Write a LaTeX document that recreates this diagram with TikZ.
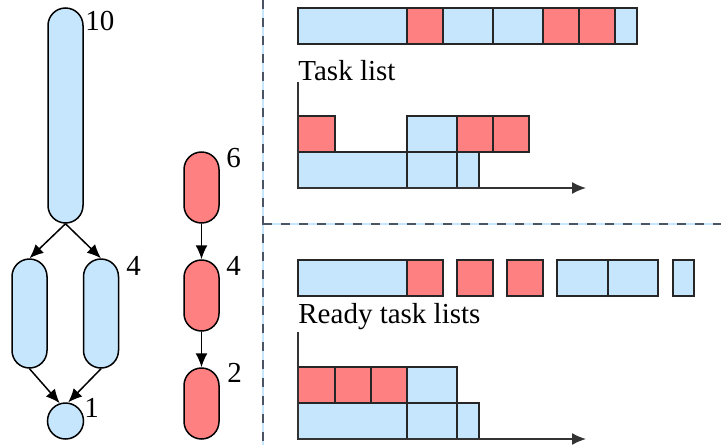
\documentclass[tikz,border=0pt]{standalone}
\usepackage{fontspec}
\setmainfont{Liberation Serif}
\usetikzlibrary{arrows.meta}
\definecolor{lblue}{RGB}{197,230,253}
\definecolor{lred}{RGB}{255,128,128}
\definecolor{dgray}{RGB}{74,84,98}
\begin{document}
\begin{tikzpicture}[x=0.5pt,y=-0.5pt,
  capsule/.style={draw=black,line width=0.75pt,rounded corners=8.75pt,minimum width=17.5pt,inner sep=0pt},
  bluecap/.style={capsule,fill=lblue},
  redcap/.style={capsule,fill=lred},
  num/.style={anchor=base west,inner sep=0pt,font=\fontsize{14.5}{16}\selectfont},
  lbl/.style={anchor=base west,inner sep=0pt,font=\fontsize{14.5}{16}\selectfont},
  arr/.style={line width=0.75pt,-{Latex[length=7pt,width=6pt]}},
  bcell/.style={draw=black!85,line width=0.75pt,fill=lblue},
  rcell/.style={draw=black!85,line width=0.75pt,fill=lred},
  axis/.style={draw=black!80,line width=0.75pt},
]
\useasboundingbox (0,0) rectangle (721,445);

% dashed separators
\draw[lblue,line width=1pt] (263,0) -- (263,445);
\draw[dgray,line width=1pt,dash pattern=on 4.5pt off 4.5pt] (263,0) -- (263,445);
\draw[lblue,line width=1pt] (263,224) -- (721,224);
\draw[dgray,line width=1pt,dash pattern=on 4.5pt off 4.5pt] (263,224) -- (721,224);

% left DAG
\node[bluecap,minimum height=107.5pt] (n10) at (65.5,115.5) {};
\node[bluecap,minimum height=54.5pt] (nL) at (29.5,313.5) {};
\node[bluecap,minimum height=54.5pt] (nR) at (101,313.5) {};
\node[draw=black,line width=0.75pt,fill=lblue,circle,minimum size=18pt,inner sep=0pt] (n1) at (65.5,421) {};
\draw[arr] (n10.south) -- (nL.north);
\draw[arr] (n10.south) -- (nR.north);
\draw[arr] (nL.south) -- (n1.108);
\draw[arr] (nR.south) -- (n1.82);
\node[num] (t10) at (85,30) {10};
\node[num] (t4a) at (126,275) {4};
\node[num] (t1) at (84,417) {1};

% middle chain
\node[redcap,minimum height=35.5pt] (m6) at (201.5,187.5) {};
\node[redcap,minimum height=35.5pt] (m4) at (201.5,295.5) {};
\node[redcap,minimum height=35.5pt] (m2) at (201.5,403.5) {};
\draw[arr] (m6.south) -- (m4.north);
\draw[arr] (m4.south) -- (m2.north);
\node[num] (t6) at (226,167) {6};
\node[num] (t4b) at (226,275) {4};
\node[num] (t2) at (227,382) {2};

% top: task list
\filldraw[bcell] (298,8) rectangle (407,44);
\filldraw[rcell] (407,8) rectangle (443,44);
\filldraw[bcell] (443,8) rectangle (493,44);
\filldraw[bcell] (493,8) rectangle (543,44);
\filldraw[rcell] (543,8) rectangle (579,44);
\filldraw[rcell] (579,8) rectangle (615,44);
\filldraw[bcell] (615,8) rectangle (637,44);
\node[lbl] (tl) at (298,80) {Task list};

\coordinate (a1top) at (298,82);
\coordinate (a1o) at (298,188);
\coordinate (a1end) at (586,188);
\filldraw[rcell] (298,116) rectangle (335,152);
\filldraw[bcell] (407,116) rectangle (457,152);
\filldraw[rcell] (457,116) rectangle (493,152);
\filldraw[rcell] (493,116) rectangle (529,152);
\filldraw[bcell] (298,152) rectangle (407,188);
\filldraw[bcell] (407,152) rectangle (457,188);
\filldraw[bcell] (457,152) rectangle (479,188);
\draw[axis] (a1top) -- (a1o);
\draw[axis,-{Latex[length=7pt,width=6pt]}] (a1o) -- (a1end);

% bottom: ready task lists
\filldraw[bcell] (298,260) rectangle (407,296);
\filldraw[rcell] (407,260) rectangle (443,296);
\filldraw[rcell] (457,260) rectangle (493,296);
\filldraw[rcell] (507,260) rectangle (543,296);
\filldraw[bcell] (557,260) rectangle (608,296);
\filldraw[bcell] (608,260) rectangle (658,296);
\filldraw[bcell] (673,260) rectangle (694,296);
\node[lbl] (rl) at (298,323) {Ready task lists};

\coordinate (a2top) at (298,332);
\coordinate (a2o) at (298,439);
\coordinate (a2end) at (586,439);
\filldraw[rcell] (298,367) rectangle (335,403);
\filldraw[rcell] (335,367) rectangle (371,403);
\filldraw[rcell] (371,367) rectangle (407,403);
\filldraw[bcell] (407,367) rectangle (457,403);
\filldraw[bcell] (298,403) rectangle (407,439);
\filldraw[bcell] (407,403) rectangle (457,439);
\filldraw[bcell] (457,403) rectangle (479,439);
\draw[axis] (a2top) -- (a2o);
\draw[axis,-{Latex[length=7pt,width=6pt]}] (a2o) -- (a2end);
\end{tikzpicture}
\end{document}
